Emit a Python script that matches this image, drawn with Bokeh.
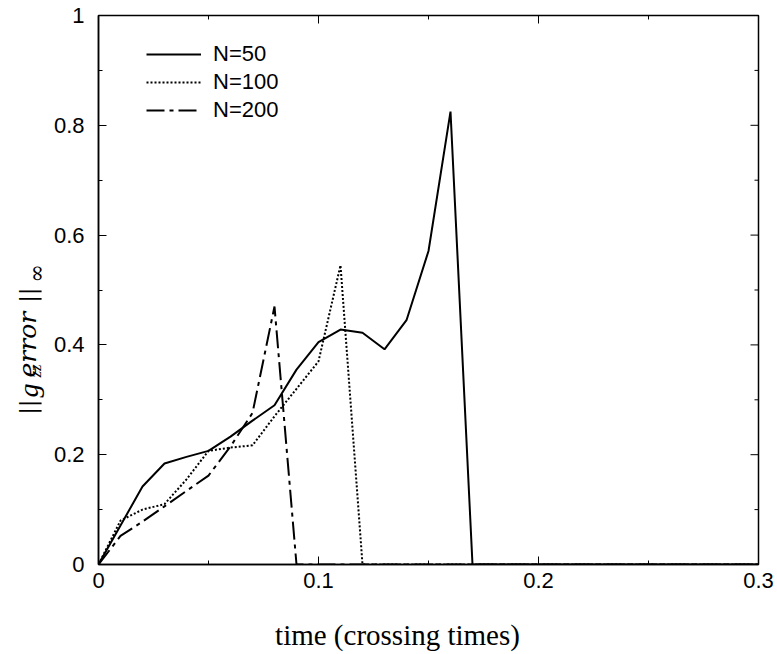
from bokeh.plotting import figure
from bokeh.models import Range1d, FixedTicker, LinearAxis, Legend, LegendItem
from bokeh.layouts import row, column
from bokeh.core.properties import value
from bokeh.embed import file_html
from bokeh.resources import INLINE
import math

# ---- data ----
x_n50 = [0, 0.01, 0.02, 0.03, 0.04, 0.05, 0.06, 0.07, 0.08, 0.09, 0.10,
         0.11, 0.12, 0.13, 0.14, 0.15, 0.16, 0.17, 0.30]
y_n50 = [0, 0.071, 0.142, 0.184, 0.196, 0.207, 0.233, 0.262, 0.290, 0.355, 0.405,
         0.428, 0.422, 0.392, 0.445, 0.571, 0.825, 0, 0]

x_n100 = [0, 0.01, 0.02, 0.03, 0.04, 0.05, 0.06, 0.07, 0.08, 0.09, 0.10,
          0.11, 0.12, 0.30]
y_n100 = [0, 0.080, 0.100, 0.110, 0.155, 0.207, 0.213, 0.217, 0.270, 0.320, 0.370,
          0.545, 0, 0]

x_n200 = [0, 0.01, 0.02, 0.03, 0.04, 0.05, 0.06, 0.07, 0.08, 0.09, 0.30]
y_n200 = [0, 0.052, 0.078, 0.106, 0.134, 0.162, 0.215, 0.276, 0.470, 0, 0]

series_labels = ["N=50", "N=100", "N=200"]

x_ticks = [0, 0.1, 0.2, 0.3]
x_minor = [0.05, 0.15, 0.25]
x_tick_labels = {0: "0", 0.1: "0.1", 0.2: "0.2", 0.3: "0.3"}
y_ticks = [0, 0.2, 0.4, 0.6, 0.8, 1.0]
y_minor = [0.1, 0.3, 0.5, 0.7, 0.9]
y_tick_labels = {0: "0", 0.2: "0.2", 0.4: "0.4", 0.6: "0.6", 0.8: "0.8", 1.0: "1"}

x_label = "time (crossing times)"

SANS = "Liberation Sans"
SERIF = "Liberation Serif"
MATH = "DejaVu Serif"

W_TOTAL, H_TOTAL = 777, 654
LW = 50                      # width of the strip holding the y-axis title
HP = 604                     # height of the plot row; the x title strip lies below
BL, BR, BT, BB = 47, 19, 15, 40
X0, X1, Y0, Y1 = 0, 0.3, 0, 1
FRAME_W = W_TOTAL - LW - BL - BR
FRAME_H = HP - BT - BB
MAJ_PX, MIN_PX = 8, 4

p = figure(width=W_TOTAL - LW, height=HP, output_backend="svg", toolbar_location=None,
           x_range=Range1d(X0, X1), y_range=Range1d(Y0, Y1),
           min_border_left=BL, min_border_right=BR, min_border_top=BT, min_border_bottom=BB,
           x_axis_type=None, y_axis_type=None)
p.background_fill_color = "white"
p.border_fill_color = "white"
p.grid.visible = False
p.outline_line_color = "black"
p.outline_line_width = 1.5


def style_axis(ax):
    ax.axis_line_color = "black"
    ax.axis_line_width = 1.5
    ax.major_tick_in = MAJ_PX
    ax.major_tick_out = 0
    ax.minor_tick_in = MIN_PX
    ax.minor_tick_out = 0
    ax.major_tick_line_color = "black"
    ax.minor_tick_line_color = "black"
    ax.major_tick_line_width = 1
    ax.minor_tick_line_width = 1
    ax.major_label_text_font = SANS
    ax.major_label_text_font_size = "22px"
    ax.major_label_text_color = "black"


xb = LinearAxis(ticker=FixedTicker(ticks=x_ticks, minor_ticks=x_minor))
xb.major_label_overrides = x_tick_labels
style_axis(xb)
xb.major_label_standoff = 8
p.add_layout(xb, "below")

yl = LinearAxis(ticker=FixedTicker(ticks=y_ticks, minor_ticks=y_minor))
yl.major_label_overrides = y_tick_labels
style_axis(yl)
yl.major_label_standoff = 14
p.add_layout(yl, "left")

# mirrored ticks on the top and right edges of the frame
dy_maj = MAJ_PX * (Y1 - Y0) / FRAME_H
dy_min = MIN_PX * (Y1 - Y0) / FRAME_H
dx_maj = MAJ_PX * (X1 - X0) / FRAME_W
dx_min = MIN_PX * (X1 - X0) / FRAME_W
p.segment(x0=x_ticks, y0=[Y1] * len(x_ticks), x1=x_ticks, y1=[Y1 - dy_maj] * len(x_ticks),
          line_color="black", line_width=1)
p.segment(x0=x_minor, y0=[Y1] * len(x_minor), x1=x_minor, y1=[Y1 - dy_min] * len(x_minor),
          line_color="black", line_width=1)
p.segment(x0=[X1] * len(y_ticks), y0=y_ticks, x1=[X1 - dx_maj] * len(y_ticks), y1=y_ticks,
          line_color="black", line_width=1)
p.segment(x0=[X1] * len(y_minor), y0=y_minor, x1=[X1 - dx_min] * len(y_minor), y1=y_minor,
          line_color="black", line_width=1)

r50 = p.line(x_n50, y_n50, line_color="black", line_width=2)
r100 = p.line(x_n100, y_n100, line_color="black", line_width=2, line_dash="2 2")
r200 = p.line(x_n200, y_n200, line_color="black", line_width=2, line_dash="18 5 4 5")

legend = Legend(items=[LegendItem(label=series_labels[0], renderers=[r50]),
                       LegendItem(label=series_labels[1], renderers=[r100]),
                       LegendItem(label=series_labels[2], renderers=[r200])],
                location=(145 - (LW + BL), 441))
legend.border_line_alpha = 0
legend.background_fill_alpha = 0
legend.padding = 0
legend.margin = 0
legend.spacing = 2
legend.glyph_width = 55
legend.glyph_height = 20
legend.label_height = 20
legend.label_standoff = 12
legend.label_text_font = SANS
legend.label_text_font_size = "22px"
legend.label_text_color = "black"
p.add_layout(legend, "center")

# ---- strip with the y-axis title ||g_zz^error||_inf (page-pixel coordinates) ----
lf = figure(width=LW, height=HP, output_backend="svg", toolbar_location=None,
            x_range=Range1d(0, LW), y_range=Range1d(HP - BB, BT),
            min_border_left=0, min_border_right=0, min_border_top=BT, min_border_bottom=BB,
            x_axis_type=None, y_axis_type=None)
lf.grid.visible = False
lf.outline_line_color = None
lf.background_fill_color = "white"
lf.border_fill_color = "white"

ylabel_parts = [
    # text, x(baseline), y(start), font, size, style
    ("||", 28, 414, MATH, "22px", "normal"),
    ("g", 28, 397, SERIF, "28px", "italic"),
    ("error", 27, 377, MATH, "25px", "italic"),
    ("zz", 35, 377, SERIF, "17px", "italic"),
    ("||", 28, 302, MATH, "22px", "normal"),
    ("\u221e", 36, 282, MATH, "22px", "normal"),
]
for t, px, py, fnt, sz, st in ylabel_parts:
    lf.text(x=[px], y=[py], text=[t], angle=math.pi / 2, text_font=value(fnt),
            text_font_size=value(sz), text_font_style=st, text_align="left",
            text_baseline="alphabetic", text_color="black")

# ---- strip with the x-axis title (page-pixel coordinates) ----
bf = figure(width=W_TOTAL, height=H_TOTAL - HP, output_backend="svg", toolbar_location=None,
            x_range=Range1d(0, W_TOTAL), y_range=Range1d(H_TOTAL, HP),
            min_border_left=0, min_border_right=0, min_border_top=0, min_border_bottom=0,
            x_axis_type=None, y_axis_type=None)
bf.grid.visible = False
bf.outline_line_color = None
bf.background_fill_color = "white"
bf.border_fill_color = "white"
bf.text(x=[397], y=[634], text=[x_label], text_font=value(SERIF),
        text_font_size=value("29px"), text_align="center", text_baseline="alphabetic",
        text_color="black")

layout = column(row(lf, p), bf)
open("out.html", "w").write(file_html(layout, INLINE))
